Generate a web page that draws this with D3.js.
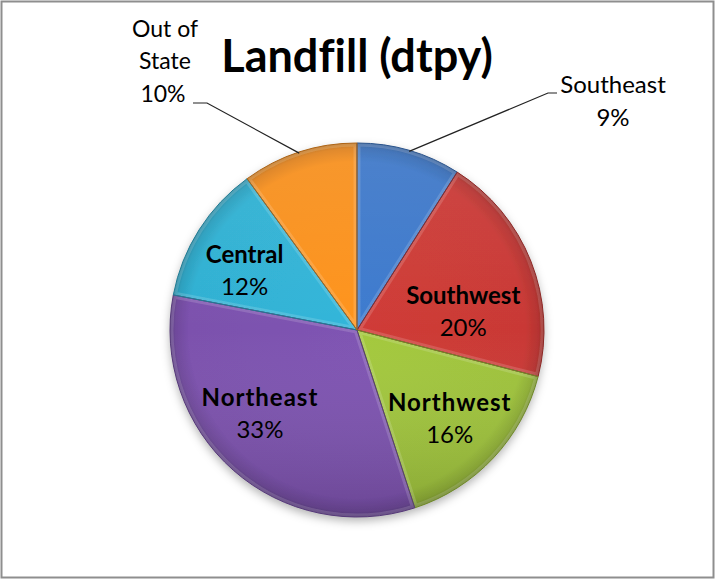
<!DOCTYPE html>
<html>
<head>
<meta charset="utf-8">
<script src="https://cdn.jsdelivr.net/npm/d3@7"></script>
<style>
  html, body { margin: 0; padding: 0; background: #fff; }
  svg { display: block; }
  text { font-family: Lato, "Open Sans", sans-serif; fill: #000; font-variant-ligatures: none; }
</style>
</head>
<body>
<svg id="chart" width="715" height="579"></svg>
<script>
// Landfill tonnage share by region (percent of total)
const regions = ["Southeast", "Southwest", "Northwest", "Northeast", "Central", "Out of State"];
const shares = [9, 20, 16, 33, 12, 10];
const sliceColors = ["#3c77c8", "#c93935", "#9ec23b", "#7b51ad", "#2fb0d2", "#f78f1e"];
const titleText = "Landfill (dtpy)";

const W = 715, H = 579;
const cx = 357, cy = 330, R = 187;

const svg = d3.select("#chart");
const defs = svg.append("defs");

// soft drop shadow under the pie
const shadow = defs.append("filter").attr("id", "pieShadow")
  .attr("x", "-20%").attr("y", "-20%").attr("width", "140%").attr("height", "140%");
shadow.append("feDropShadow").attr("dx", 0).attr("dy", 4).attr("stdDeviation", 5)
  .attr("flood-color", "#000").attr("flood-opacity", 0.3);

// per-slice gradient: even body, darker toward the rim
sliceColors.forEach((c, i) => {
  const gr = defs.append("radialGradient").attr("id", "grad" + i)
    .attr("gradientUnits", "userSpaceOnUse")
    .attr("cx", 0).attr("cy", 0).attr("r", R);
  const base = d3.color(c);
  gr.append("stop").attr("offset", "0%").attr("stop-color", base.brighter(0.1));
  gr.append("stop").attr("offset", "90%").attr("stop-color", base);
  gr.append("stop").attr("offset", "97%").attr("stop-color", base.darker(0.3));
  gr.append("stop").attr("offset", "100%").attr("stop-color", base.darker(0.8));
});

// top-to-bottom lighting across the whole pie
const light = defs.append("linearGradient").attr("id", "lighting")
  .attr("x1", 0).attr("y1", 0).attr("x2", 0).attr("y2", 1);
light.append("stop").attr("offset", "0%").attr("stop-color", "#fff").attr("stop-opacity", 0.08);
light.append("stop").attr("offset", "50%").attr("stop-color", "#fff").attr("stop-opacity", 0);
light.append("stop").attr("offset", "100%").attr("stop-color", "#000").attr("stop-opacity", 0.14);

// chart frame
svg.append("rect").attr("x", 1.5).attr("y", 1.5).attr("width", W - 3).attr("height", H - 3)
  .attr("fill", "#fff").attr("stroke", "#8e8e8e").attr("stroke-width", 2);

// title
svg.append("text").attr("x", cx).attr("y", 72).attr("text-anchor", "middle")
  .style("font-size", "45px").style("font-weight", "bold").text(titleText);

const pie = d3.pie().value(d => d).sort(null);
const arcs = pie(shares);
const arc = d3.arc().innerRadius(0).outerRadius(R);

const g = svg.append("g").attr("transform", `translate(${cx},${cy})`);

// clip paths so each slice's bevel highlight stays inside it
arcs.forEach((d, i) => {
  defs.append("clipPath").attr("id", "clip" + i)
    .append("path").attr("d", arc(d));
});

g.append("g").attr("filter", "url(#pieShadow)")
  .selectAll("path").data(arcs).join("path")
  .attr("d", arc)
  .attr("fill", (d, i) => `url(#grad${i})`);

g.append("circle").attr("r", R).attr("fill", "url(#lighting)");

// bevel highlight along each slice's edges
g.append("g").selectAll("path").data(arcs).join("path")
  .attr("d", arc)
  .attr("clip-path", (d, i) => `url(#clip${i})`)
  .attr("fill", "none")
  .attr("stroke", "#fff").attr("stroke-opacity", 0.15).attr("stroke-width", 7)
  .attr("stroke-linejoin", "round");

// slice outlines
g.append("g").selectAll("path").data(arcs).join("path")
  .attr("d", arc)
  .attr("fill", "none")
  .attr("stroke", (d, i) => d3.color(sliceColors[i]).darker(1))
  .attr("stroke-width", 1)
  .attr("stroke-linejoin", "round");

// inside labels: slice centroid on a label ring, nudged for fit
const labelArc = d3.arc().innerRadius(R * 0.68).outerRadius(R * 0.68);
const nudge = { 1: [-12, 27], 2: [0, 0], 3: [-13, -13], 4: [-5, 7] };
[1, 2, 3, 4].forEach(i => {
  const [x, y] = labelArc.centroid(arcs[i]);
  const [nx, ny] = nudge[i];
  const t = g.append("text").attr("text-anchor", "middle")
    .attr("transform", `translate(${x + nx},${y + ny})`)
    .style("font-size", "24px");
  t.append("tspan").attr("x", 0).attr("y", -6).style("font-weight", "bold")
    .style("letter-spacing", i === 3 || i === 2 ? "1px" : "0px").text(regions[i]);
  t.append("tspan").attr("x", 0).attr("y", 26).text(shares[i] + "%");
});

// outside labels with leader lines from the slice rim
function edgePoint(d) {
  const a = (d.startAngle + d.endAngle) / 2;
  return [cx + R * Math.sin(a), cy - R * Math.cos(a)];
}

// Southeast
{
  const p = edgePoint(arcs[0]);
  svg.append("path").attr("fill", "none").attr("stroke", "#222").attr("stroke-width", 1.2)
    .attr("d", d3.line()([[p[0], p[1] + 1], [548, 93], [557, 93]]));
  const t = svg.append("text").attr("text-anchor", "middle").style("font-size", "24px");
  t.append("tspan").attr("x", 613).attr("y", 93).text(regions[0]);
  t.append("tspan").attr("x", 613).attr("y", 126).text(shares[0] + "%");
}
// Out of State
{
  const p = edgePoint(arcs[5]);
  svg.append("path").attr("fill", "none").attr("stroke", "#222").attr("stroke-width", 1.2)
    .attr("d", d3.line()([[193, 103], [207, 103], [p[0], p[1] + 1]]));
  const t = svg.append("text").attr("text-anchor", "middle").style("font-size", "23px");
  t.append("tspan").attr("x", 165).attr("y", 37).text("Out of");
  t.append("tspan").attr("x", 165).attr("y", 69).text("State");
  t.append("tspan").attr("x", 163).attr("y", 102).text(shares[5] + "%");
}
</script>
</body>
</html>
